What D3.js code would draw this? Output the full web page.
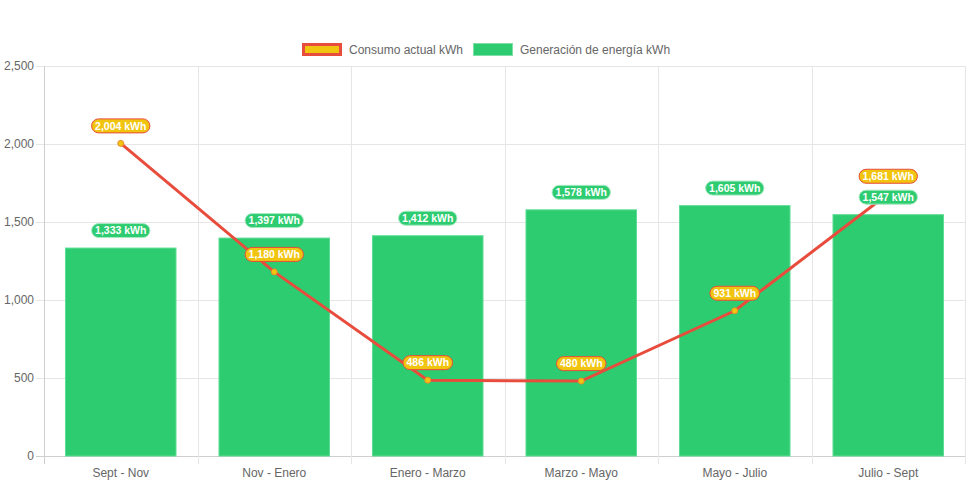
<!DOCTYPE html>
<html>
<head>
<meta charset="utf-8">
<script src="https://cdn.jsdelivr.net/npm/d3@7"></script>
<style>
  html, body { margin: 0; padding: 0; background: #fff; }
  svg { display: block; font-family: "Liberation Sans", Arial, Helvetica, sans-serif; }
  .tick text { fill: #666; font-size: 12px; }
</style>
</head>
<body>
<svg id="chart" width="971" height="485"></svg>
<script>
// data
const periods = ["Sept - Nov", "Nov - Enero", "Enero - Marzo", "Marzo - Mayo", "Mayo - Julio", "Julio - Sept"];
const consumo = [2004, 1180, 486, 480, 931, 1681];
const generacion = [1333, 1397, 1412, 1578, 1605, 1547];
const yTicks = [0, 500, 1000, 1500, 2000, 2500];
const legendNames = ["Consumo actual kWh", "Generación de energía kWh"];

const RED = "#e74c3c", YELLOW = "#f1c40f", GREEN = "#2ecc71";

const svg = d3.select("#chart");
const margin = {left: 44, right: 6, top: 66, bottom: 29};
const W = 971, H = 485;

const x = d3.scaleBand()
  .domain(periods)
  .range([margin.left, W - margin.right])
  .paddingInner(0).paddingOuter(0);

const y = d3.scaleLinear()
  .domain([0, 2500])
  .range([H - margin.bottom, margin.top]);

const fmt = d3.format(",");

// grid
const grid = svg.append("g");
grid.selectAll(".hgrid")
  .data(yTicks)
  .enter().append("line")
  .attr("x1", margin.left - 8).attr("x2", W - margin.right)
  .attr("y1", d => Math.round(y(d)) + 0.5).attr("y2", d => Math.round(y(d)) + 0.5)
  .attr("stroke", d => d === 0 ? "#cfcfcf" : "#e6e6e6");

const vlines = periods.map(p => x(p)).concat([x.range()[1]]);
grid.selectAll(".vgrid")
  .data(vlines)
  .enter().append("line")
  .attr("x1", d => Math.round(d) + 0.5).attr("x2", d => Math.round(d) + 0.5)
  .attr("y1", margin.top).attr("y2", H - margin.bottom + 8)
  .attr("stroke", (d, i) => i === 0 ? "#cfcfcf" : "#e6e6e6");

// axes text
const yAxis = d3.axisLeft(y).tickValues(yTicks).tickFormat(fmt).tickSize(0).tickPadding(10);
svg.append("g")
  .attr("transform", `translate(${margin.left},0)`)
  .call(yAxis)
  .call(g => g.select(".domain").remove());

const xAxis = d3.axisBottom(x).tickSize(0).tickPadding(12);
svg.append("g")
  .attr("transform", `translate(0,${H - margin.bottom})`)
  .call(xAxis)
  .call(g => g.select(".domain").remove());

// bars
const bw = x.bandwidth() * 0.72;
svg.append("g").selectAll("rect")
  .data(generacion)
  .enter().append("rect")
  .attr("x", (d, i) => x(periods[i]) + (x.bandwidth() - bw) / 2)
  .attr("width", bw)
  .attr("y", d => y(d))
  .attr("height", d => y(0) - y(d))
  .attr("fill", GREEN)
  .attr("stroke", "#5fdc94")
  .attr("stroke-width", 1);

// line
const cx = i => x(periods[i]) + x.bandwidth() / 2;
const line = d3.line()
  .x((d, i) => cx(i))
  .y(d => y(d));

svg.append("path")
  .datum(consumo)
  .attr("d", line)
  .attr("fill", "none")
  .attr("stroke", RED)
  .attr("stroke-width", 3);

svg.append("g").selectAll("circle")
  .data(consumo)
  .enter().append("circle")
  .attr("cx", (d, i) => cx(i))
  .attr("cy", d => y(d))
  .attr("r", 3)
  .attr("fill", YELLOW)
  .attr("stroke", "#ec8a2c")
  .attr("stroke-width", 1);

// data labels
function addLabels(values, bg, border) {
  const g = svg.append("g");
  values.forEach((v, i) => {
    const lg = g.append("g")
      .attr("transform", `translate(${cx(i)},${y(v) - 17.5})`);
    const t = lg.append("text")
      .attr("text-anchor", "middle")
      .attr("dy", "0.35em")
      .attr("fill", "#fff")
      .attr("font-size", "10.5px")
      .attr("font-weight", "bold")
      .text(fmt(v) + " kWh");
    const w = t.node().getComputedTextLength() + 7;
    lg.insert("rect", "text")
      .attr("x", -w / 2).attr("y", -7)
      .attr("width", w).attr("height", 14)
      .attr("rx", 7).attr("ry", 7)
      .attr("fill", bg)
      .attr("stroke", border)
      .attr("stroke-width", 1);
  });
}
addLabels(generacion, GREEN, "#a8e9c3");
addLabels(consumo, YELLOW, RED);

// legend
const legend = svg.append("g");
const items = [
  {name: legendNames[0], fill: YELLOW, stroke: RED, sw: 3, x: 302},
  {name: legendNames[1], fill: GREEN, stroke: "#7ee0a6", sw: 1, x: 473}
];
items.forEach(it => {
  legend.append("rect")
    .attr("x", it.x + it.sw / 2).attr("y", 43 + it.sw / 2)
    .attr("width", 40 - it.sw).attr("height", 13 - it.sw)
    .attr("fill", it.fill)
    .attr("stroke", it.stroke)
    .attr("stroke-width", it.sw);
  legend.append("text")
    .attr("x", it.x + 47).attr("y", 49.5)
    .attr("dy", "0.35em")
    .attr("fill", "#666")
    .attr("font-size", "12px")
    .text(it.name);
});
</script>
</body>
</html>
